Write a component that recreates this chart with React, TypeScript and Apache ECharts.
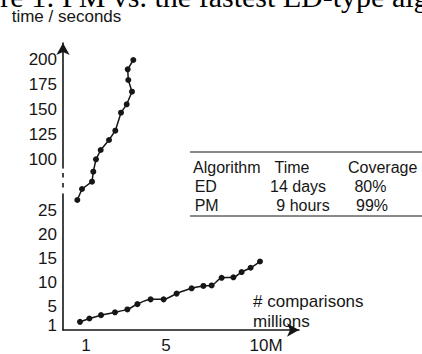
import React, { useEffect, useRef } from "react";
import * as echarts from "echarts";

// ED-type algorithm (upper, broken scale) — seconds
const edX = [0.565, 0.8, 1.3, 1.365, 1.5, 1.735, 2.15, 2.465, 2.75, 3.035, 3.3, 3.115, 3.085, 3.365];
const edY = [59, 70, 77.3, 87.3, 99.7, 109, 119, 128.3, 146.3, 154.7, 167.3, 179, 189.7, 199];

// PM (lower scale) — seconds
const pmX = [0.7, 1.17, 1.75, 2.45, 3.07, 3.57, 4.23, 4.88, 5.53, 6.28, 6.87, 7.28, 7.78, 8.37, 8.78, 9.23, 9.7];
const pmY = [1.7, 2.4, 3.1, 3.7, 4.3, 5.4, 6.4, 6.4, 7.6, 8.7, 9.2, 9.3, 10.9, 11.0, 12.1, 13.0, 14.3];

const upperTicks = [100, 125, 150, 175, 200];
const lowerTicks = [1, 5, 10, 15, 20, 25];
const xTicks = [1, 5, 10];

const caption = "Figure 1: PM vs. the fastest ED-type algorithm";
const yTitle = "time / seconds";
const xTitle = ["# comparisons", "millions"];
const tableHeader = ["Algorithm", "Time", "Coverage"];
const tableRows = [
  ["ED", "14 days", "80%"],
  ["PM", "9 hours", "99%"],
];

const INK = "#161616";
const SANS = "'Liberation Sans', Arial, Helvetica, sans-serif";

export default function App() {
  const ref = useRef<HTMLDivElement>(null);
  useEffect(() => {
    if (!ref.current) return;
    const chart = echarts.init(ref.current, undefined, { renderer: "svg" });
    const zip = (a: number[], b: number[]) => a.map((v, i) => [v, b[i]]);

    const colX = [
      [193, 274.5, 348],
      [194.7, 270, 354.4],
      [194.7, 276.3, 356],
    ];
    const rowY = [167.5, 186, 205];
    const tableTexts: any[] = [];
    [tableHeader, ...tableRows].forEach((row, r) =>
      row.forEach((t, c) =>
        tableTexts.push({
          type: "text",
          x: colX[r][c],
          y: rowY[r],
          style: { text: t, fontSize: 16, fontFamily: SANS, fill: INK, verticalAlign: "middle", align: "left" },
        })
      )
    );

    const xMin = -0.15;
    const xMax = 11.65;

    chart.setOption({
      animation: false,
      backgroundColor: "#fff",
      grid: [
        { left: 63, width: 236, top: 43, height: 125 },
        { left: 63, width: 236, top: 194, height: 142 },
      ],
      xAxis: [
        { gridIndex: 0, type: "value", min: xMin, max: xMax, show: false },
        {
          gridIndex: 1,
          type: "value",
          min: xMin,
          max: xMax,
          splitLine: { show: false },
          axisTick: { show: false },
          axisLine: {
            onZero: false,
            lineStyle: { color: INK, width: 1.6 },
            symbol: ["none", "arrow"],
            symbolSize: [10, 12],
          },
          axisLabel: {
            customValues: xTicks,
            formatter: (v: number) => (v === 10 ? "10M" : String(v)),
            fontSize: 17,
            fontFamily: SANS,
            color: INK,
            margin: 7,
          },
        },
      ],
      yAxis: [
        {
          gridIndex: 0,
          type: "value",
          min: 91,
          max: 216,
          splitLine: { show: false },
          axisTick: { show: false },
          axisLine: {
            show: true,
            onZero: false,
            lineStyle: { color: INK, width: 1.6 },
            symbol: ["none", "arrow"],
            symbolSize: [10, 12],
          },
          axisLabel: { customValues: upperTicks, fontSize: 17, fontFamily: SANS, color: INK, margin: 6 },
        },
        {
          gridIndex: 1,
          type: "value",
          min: 0,
          max: 28.4,
          splitLine: { show: false },
          axisTick: { show: false },
          axisLine: { show: true, onZero: false, lineStyle: { color: INK, width: 1.6 } },
          axisLabel: { customValues: lowerTicks, fontSize: 17, fontFamily: SANS, color: INK, margin: 6 },
        },
      ],
      series: [
        {
          type: "line",
          xAxisIndex: 0,
          yAxisIndex: 0,
          data: zip(edX, edY),
          clip: false,
          symbol: "circle",
          symbolSize: 6,
          itemStyle: { color: INK },
          lineStyle: { color: INK, width: 1.5 },
        },
        {
          type: "line",
          xAxisIndex: 1,
          yAxisIndex: 1,
          data: zip(pmX, pmY),
          clip: false,
          smooth: 0.25,
          symbol: "circle",
          symbolSize: 6,
          itemStyle: { color: INK },
          lineStyle: { color: INK, width: 1.5 },
        },
      ],
      graphic: [
        {
          type: "text",
          x: -54.7,
          y: -4,
          style: { text: caption, fontSize: 30, fontFamily: "'Liberation Serif', 'Times New Roman', serif", fill: "#000", verticalAlign: "middle", align: "left" },
        },
        {
          type: "text",
          x: 11.7,
          y: 16.5,
          style: { text: yTitle, fontSize: 17, fontFamily: SANS, fill: INK, verticalAlign: "middle", align: "left" },
        },
        {
          type: "text",
          x: 253,
          y: 301.6,
          style: { text: xTitle[0], fontSize: 17, fontFamily: SANS, fill: INK, verticalAlign: "middle", align: "left" },
        },
        {
          type: "text",
          x: 253,
          y: 321.1,
          style: { text: xTitle[1], fontSize: 17, fontFamily: SANS, fill: INK, verticalAlign: "middle", align: "left" },
        },
        // axis break dashes
        { type: "line", shape: { x1: 63, y1: 173, x2: 63, y2: 177.5 }, style: { stroke: INK, lineWidth: 1.6 } },
        { type: "line", shape: { x1: 63, y1: 183, x2: 63, y2: 187.5 }, style: { stroke: INK, lineWidth: 1.6 } },
        // table rules
        { type: "line", shape: { x1: 190, y1: 152, x2: 422, y2: 152 }, style: { stroke: INK, lineWidth: 1.2 } },
        { type: "line", shape: { x1: 190, y1: 216, x2: 422, y2: 216 }, style: { stroke: INK, lineWidth: 1.2 } },
        ...tableTexts,
      ],
    });
    return () => chart.dispose();
  }, []);
  return <div ref={ref} style={{ position: "absolute", left: 0, top: 0, width: 422, height: 354 }} />;
}
